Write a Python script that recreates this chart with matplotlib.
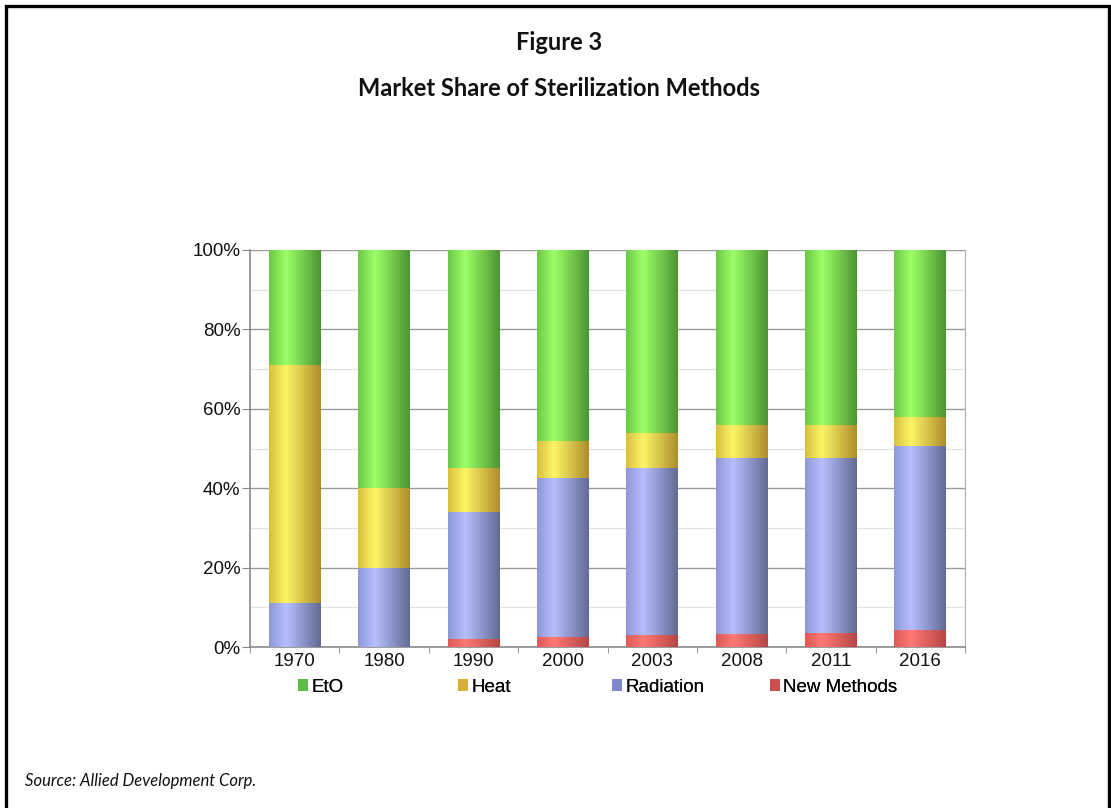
import matplotlib
matplotlib.use("Agg")
import matplotlib.pyplot as plt
import numpy as np
from matplotlib.colors import LinearSegmentedColormap
from matplotlib.patches import Patch, Rectangle
from matplotlib.ticker import MultipleLocator, FuncFormatter

years = ["1970", "1980", "1990", "2000", "2003", "2008", "2011", "2016"]
new_methods = [0, 0, 2.0, 2.5, 3.0, 3.2, 3.6, 4.2]
radiation = [11.0, 20.0, 32.0, 40.0, 42.0, 44.3, 44.0, 46.4]
heat = [60.0, 20.0, 11.0, 9.5, 9.0, 8.4, 8.3, 7.4]
eto = [29.0, 60.0, 55.0, 48.0, 46.0, 44.1, 44.1, 42.0]

series = ["EtO", "Heat", "Radiation", "New Methods"]

# (edge, light, dark) shades for the cylinder-like fill, plus legend swatch
shades = {
    "New Methods": ("#dc5a58", "#ff7874", "#b54644", "#c9504e"),
    "Radiation": ("#8f98d6", "#b6beff", "#626a94", "#8088cc"),
    "Heat": ("#d8bf3e", "#fdf565", "#ad8c2c", "#d8b030"),
    "EtO": ("#6cc848", "#9cff66", "#4b9432", "#5cbf45"),
}

W, H = 1111, 808
fig = plt.figure(figsize=(W / 100, H / 100), dpi=100)
fig.patch.set_facecolor("white")

ax = fig.add_axes([250 / W, 1 - 647 / H, 715 / W, 397 / H])
x = np.arange(len(years))
bw = 0.58

grad = np.linspace(0, 1, 256).reshape(1, -1)
bottom = np.zeros(len(years))
for name, vals in [("New Methods", new_methods), ("Radiation", radiation),
                   ("Heat", heat), ("EtO", eto)]:
    edge, light, dark, _ = shades[name]
    cmap = LinearSegmentedColormap.from_list(
        name, [(0, edge), (0.33, light), (1, dark)])
    bars = ax.bar(x, vals, bw, bottom=bottom, color=light, linewidth=0, zorder=3)
    for b in bars:
        if b.get_height() <= 0:
            continue
        x0, y0 = b.get_x(), b.get_y()
        im = ax.imshow(grad, cmap=cmap, aspect="auto", zorder=3,
                       extent=[x0, x0 + b.get_width(), y0, y0 + b.get_height()])
        im.set_clip_path(b)
    bottom += np.array(vals)

ax.set_xlim(-0.5, len(years) - 0.5)
ax.set_ylim(0, 100)

ax.yaxis.set_major_locator(MultipleLocator(20))
ax.yaxis.set_minor_locator(MultipleLocator(10))
ax.yaxis.set_major_formatter(FuncFormatter(lambda v, p: "%d%%" % v))
ax.grid(axis="y", which="major", color="#9a9a9a", linewidth=1.0, zorder=0)
ax.grid(axis="y", which="minor", color="#e2e2e2", linewidth=0.9, zorder=0)

ax.set_xticks(x)
ax.set_xticklabels(years)
ax.set_xticks(np.arange(len(years) + 1) - 0.5, minor=True)
ax.tick_params(axis="x", which="major", length=0, pad=4,
               labelsize=13.5, labelcolor="#111111")
ax.tick_params(axis="x", which="minor", length=4, color="#888888", direction="out")
ax.tick_params(axis="y", which="major", length=6, color="#888888", direction="out",
               labelsize=13.5, labelcolor="#111111", pad=1)
ax.tick_params(axis="y", which="minor", length=0)
for lbl in ax.get_xticklabels() + ax.get_yticklabels():
    lbl.set_family("Liberation Sans")

for side in ["left", "bottom"]:
    ax.spines[side].set_color("#8a8a8a")
    ax.spines[side].set_linewidth(1.2)
ax.spines["right"].set_color("#b0b0b0")
ax.spines["top"].set_visible(False)
ax.set_axisbelow(True)

# legend entries sit in fixed-width slots like the original chart
leg_x = [298, 458, 612, 770]
for name, lx in zip(series, leg_x):
    h = Patch(facecolor=shades[name][3], edgecolor="none")
    lg = fig.legend(handles=[h], labels=[name], loc="center left",
                    bbox_to_anchor=(lx / W, 1 - 687 / H), frameon=False,
                    handlelength=0.55, handleheight=0.55, handletextpad=0.15,
                    borderpad=0, borderaxespad=0,
                    prop={"family": "Liberation Sans", "size": 13.5})
    fig.add_artist(lg)

fig.text(0.503, 1 - 42 / H, "Figure 3", ha="center", va="center",
         family="Lato", weight="bold", fontsize=17, color="#111111")
fig.text(0.503, 1 - 88 / H, "Market Share of Sterilization Methods", ha="center",
         va="center", family="Lato", weight="bold", fontsize=17, color="#111111")
fig.text(25 / W, 1 - 781 / H, "Source: Allied Development Corp.", ha="left",
         va="center", family="Lato", style="italic", fontsize=12, color="#111111")

fig.add_artist(Rectangle((5.5 / W, -0.05), 1103 / W, 1.05 - 5.5 / H,
                         transform=fig.transFigure, fill=False,
                         edgecolor="black", linewidth=2.4))

fig.savefig("out.png", dpi=100)
